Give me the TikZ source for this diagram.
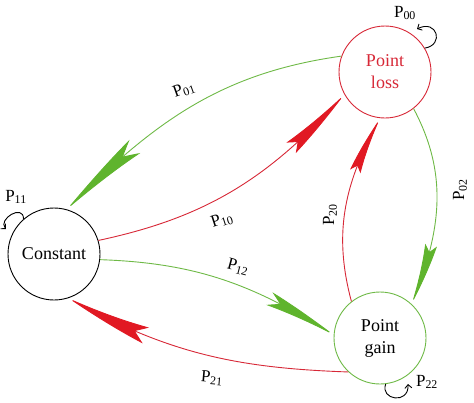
\documentclass[tikz,border=0pt]{standalone}
\usepackage{fontspec}
\setmainfont{Liberation Serif}
\usetikzlibrary{arrows.meta,bending}
\definecolor{lred}{RGB}{215,40,55}
\definecolor{ared}{RGB}{225,25,35}
\definecolor{lgreen}{RGB}{110,185,70}
\definecolor{agreen}{RGB}{95,180,45}
\begin{document}
\begin{tikzpicture}[x=1pt,y=1pt,
 state/.style={circle, minimum size=92pt, inner sep=0pt, line width=0.9pt, align=center, font=\fontsize{18}{22}\selectfont},
 lbl/.style={font=\fontsize{17}{20}\selectfont, inner sep=0pt},
 gline/.style={draw=lgreen, line width=0.9pt},
 rline/.style={draw=lred, line width=0.9pt},
 loopline/.style={draw=black, line width=0.9pt, -{Straight Barb[length=3.5pt,width=7pt]}}
]
\useasboundingbox (0,0) rectangle (474,-402);
\node[state, draw=lred, text=lred] (PL) at (385,-72) {Point\\loss};
\node[state, draw=black] (C) at (54,-254) {Constant};
\node[state, draw=lgreen] (PG) at (380,-338) {Point\\gain};

% edges
\draw[gline, -{Stealth[length=100pt,width=17pt,inset=18pt,bend,color=agreen]}]
  (PL.160) to[out=188,in=45] (C.74);
\draw[rline, -{Stealth[length=81pt,width=14pt,inset=10pt,bend,color=ared]}]
  (C.17) to[out=12,in=228] (PL.209);
\draw[gline, -{Stealth[length=66pt,width=12pt,inset=8pt,bend,color=agreen]}]
  (PL.308) to[out=-62,in=68] (PG.47);
\draw[rline, -{Stealth[length=63pt,width=11pt,inset=7pt,bend,color=ared]}]
  (PG.128) to[out=105,in=241] (PL.264);
\draw[gline, -{Stealth[length=80pt,width=14pt,inset=14pt,bend,color=agreen]}]
  (C.-7) to[out=-2,in=148] (PG.176);
\draw[rline, -{Stealth[length=94pt,width=17pt,inset=14pt,bend,color=ared]}]
  (PG.227) to[out=178,in=331] (C.-72);

% self loops
\coordinate (e00) at (417,-29);
\coordinate (e11) at (6,-229);
\coordinate (e22) at (408,-384);
\draw[loopline] (PL.31) .. controls +(20,3) and +(20,11) .. (e00);
\draw[loopline] (C.131) .. controls +(0,16) and +(-10,9) .. (e11);
\draw[loopline] (PG.-83) .. controls +(-6,-16) and +(2,-21) .. (e22);

% labels
\node[lbl] (l00) at (405,-13) {P\textsubscript{00}};
\node[lbl] (l11) at (16,-197) {P\textsubscript{11}};
\node[lbl] (l22) at (427,-382) {P\textsubscript{22}};
\node[lbl, rotate=20] (l01) at (184,-90) {P\textsubscript{01}};
\node[lbl, rotate=18] (l10) at (222,-220) {P\textsubscript{10}};
\node[lbl, rotate=90] (l02) at (460,-190) {P\textsubscript{02}};
\node[lbl, rotate=90] (l20) at (330,-215) {P\textsubscript{20}};
\node[lbl, rotate=-15] (l12) at (238,-267) {P\textsubscript{12}};
\node[lbl, rotate=-5] (l21) at (212,-378) {P\textsubscript{21}};
\end{tikzpicture}
\end{document}
